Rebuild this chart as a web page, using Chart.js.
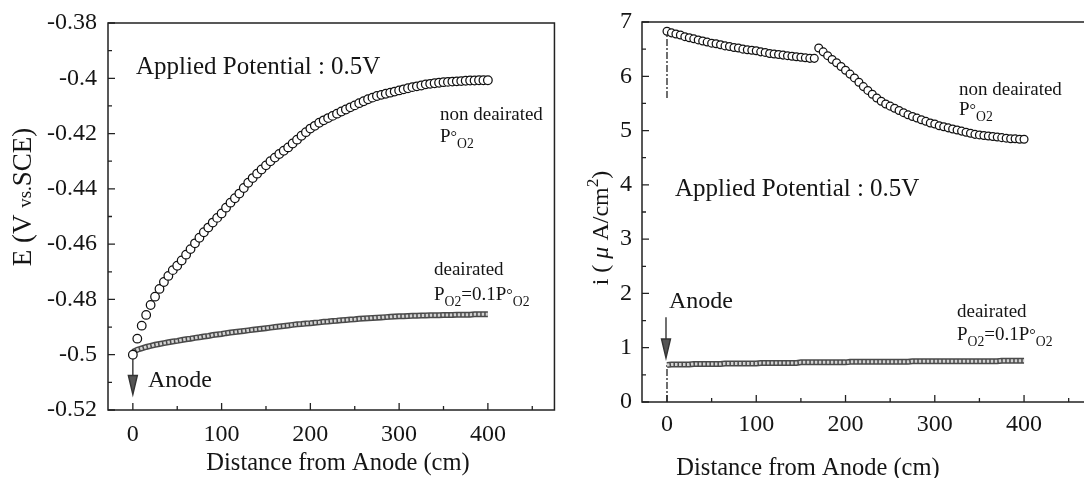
<!DOCTYPE html>
<html><head><meta charset="utf-8">
<script src="https://cdn.jsdelivr.net/npm/chart.js@4.4.1/dist/chart.umd.min.js"></script>
<style>
html,body{margin:0;padding:0;background:#fff;overflow:hidden;width:1084px;height:478px;}
#c1{position:absolute;left:0;top:0;}
#c2{position:absolute;left:560px;top:0;}
</style></head><body>
<canvas id="c1" width="560" height="478"></canvas>
<canvas id="c2" width="540" height="478"></canvas>
<script>
// ---------- data ----------
const distance = [0,5,10,15,20,25,30,35,40,45,50,55,60,65,70,75,80,85,90,95,
  100,105,110,115,120,125,130,135,140,145,150,155,160,165,170,175,180,185,190,195,
  200,205,210,215,220,225,230,235,240,245,250,255,260,265,270,275,280,285,290,295,
  300,305,310,315,320,325,330,335,340,345,350,355,360,365,370,375,380,385,390,395,400];

const E_nonDeairated = [-0.5000,-0.4942,-0.4895,-0.4856,-0.4820,-0.4790,-0.4762,-0.4737,-0.4715,-0.4694,
  -0.4678,-0.4659,-0.4638,-0.4618,-0.4597,-0.4577,-0.4557,-0.4540,-0.4522,-0.4505,
  -0.4489,-0.4468,-0.4450,-0.4434,-0.4417,-0.4397,-0.4378,-0.4361,-0.4345,-0.4330,
  -0.4315,-0.4300,-0.4287,-0.4274,-0.4262,-0.4250,-0.4236,-0.4222,-0.4208,-0.4195,
  -0.4182,-0.4172,-0.4161,-0.4152,-0.4144,-0.4136,-0.4128,-0.4120,-0.4113,-0.4105,
  -0.4098,-0.4090,-0.4083,-0.4076,-0.4070,-0.4064,-0.4060,-0.4056,-0.4052,-0.4048,
  -0.4044,-0.4040,-0.4036,-0.4032,-0.4029,-0.4026,-0.4022,-0.4020,-0.4018,-0.4016,
  -0.4014,-0.4013,-0.4012,-0.4011,-0.4010,-0.4009,-0.4008,-0.4008,-0.4007,-0.4007,-0.4007];

const E_deairated = [-0.4990,-0.4982,-0.4977,-0.4972,-0.4968,-0.4964,-0.4961,-0.4958,-0.4955,-0.4952,
  -0.4950,-0.4947,-0.4944,-0.4942,-0.4939,-0.4937,-0.4934,-0.4932,-0.4929,-0.4927,
  -0.4925,-0.4922,-0.4920,-0.4918,-0.4916,-0.4914,-0.4912,-0.4910,-0.4908,-0.4906,
  -0.4904,-0.4902,-0.4900,-0.4898,-0.4896,-0.4894,-0.4892,-0.4890,-0.4889,-0.4887,
  -0.4886,-0.4884,-0.4883,-0.4881,-0.4880,-0.4878,-0.4877,-0.4875,-0.4874,-0.4873,
  -0.4872,-0.4870,-0.4869,-0.4868,-0.4867,-0.4866,-0.4865,-0.4864,-0.4863,-0.4862,
  -0.4861,-0.4861,-0.4860,-0.4859,-0.4859,-0.4858,-0.4858,-0.4857,-0.4857,-0.4857,
  -0.4856,-0.4856,-0.4856,-0.4855,-0.4855,-0.4855,-0.4855,-0.4854,-0.4854,-0.4854,-0.4854];

const i_nonDeairated = [6.83,6.80,6.78,6.76,6.73,6.71,6.69,6.67,6.65,6.63,
  6.61,6.60,6.58,6.56,6.55,6.53,6.52,6.50,6.49,6.48,
  6.47,6.45,6.44,6.42,6.41,6.40,6.39,6.38,6.37,6.36,
  6.35,6.34,6.33,6.33,6.52,6.45,6.38,6.31,6.25,6.18,
  6.11,6.04,5.97,5.89,5.81,5.74,5.67,5.60,5.54,5.49,
  5.45,5.41,5.37,5.33,5.29,5.26,5.23,5.20,5.17,5.14,
  5.12,5.09,5.07,5.05,5.03,5.01,4.99,4.97,4.95,4.93,
  4.92,4.91,4.90,4.89,4.88,4.87,4.86,4.85,4.85,4.84,4.84];

const i_deairated = [0.68,0.69,0.69,0.69,0.69,0.69,0.70,0.70,0.70,0.70,
  0.70,0.70,0.70,0.71,0.71,0.71,0.71,0.71,0.71,0.71,
  0.71,0.72,0.72,0.72,0.72,0.72,0.72,0.72,0.72,0.72,
  0.73,0.73,0.73,0.73,0.73,0.73,0.73,0.73,0.73,0.73,
  0.73,0.74,0.74,0.74,0.74,0.74,0.74,0.74,0.74,0.74,
  0.74,0.74,0.74,0.74,0.74,0.75,0.75,0.75,0.75,0.75,
  0.75,0.75,0.75,0.75,0.75,0.75,0.75,0.75,0.75,0.75,
  0.75,0.75,0.75,0.75,0.75,0.76,0.76,0.76,0.76,0.76,0.76];

// start-of-measurement vertical marks (current chart) and Anode arrows
const startMarkX = [0, 0];
const startMarkUpper = [5.60, 6.83];
const startMarkLower = [0.00, 0.68];
const anodeArrowE = [-0.5000, -0.5144];
const anodeArrowI = [1.56, 0.81];

// ticks
const xTicks = [0, 100, 200, 300, 400];
const xTickLabels = ['0', '100', '200', '300', '400'];
const xMinor = [50, 150, 250, 350, 450];
const eTicks = [-0.52, -0.50, -0.48, -0.46, -0.44, -0.42, -0.40, -0.38];
const eTickLabels = ['-0.52', '-0.5', '-0.48', '-0.46', '-0.44', '-0.42', '-0.4', '-0.38'];
const eMinor = [-0.51, -0.49, -0.47, -0.45, -0.43, -0.41, -0.39];
const iTicks = [0, 1, 2, 3, 4, 5, 6, 7];
const iTickLabels = ['0', '1', '2', '3', '4', '5', '6', '7'];
const iMinor = [0.5, 1.5, 2.5, 3.5, 4.5, 5.5, 6.5];

// ---------- helpers ----------
const SERIF = '"Liberation Serif", "Times New Roman", serif';
const INK = '#151515';
const pts = (xs, ys) => xs.map((x, k) => ({x: x, y: ys[k]}));

function drawRuns(ctx, x, y, runs, base, measureOnly) {
  let cx = x;
  runs.forEach(r => {
    const s = (r.sub || r.sup) ? base * 0.72 : base * (r.scale || 1);
    ctx.font = (r.italic ? 'italic ' : '') + s + 'px ' + SERIF;
    const dy = r.sub ? base * 0.30 : (r.sup ? -base * 0.40 : 0);
    if (!measureOnly) ctx.fillText(r.t, cx, y + dy);
    cx += ctx.measureText(r.t).width;
  });
  return cx - x;
}
function drawRotated(ctx, bx, cy, runs, base) {
  ctx.save();
  ctx.translate(bx, cy);
  ctx.rotate(-Math.PI / 2);
  const w = drawRuns(ctx, 0, 0, runs, base, true);
  drawRuns(ctx, -w / 2, 0, runs, base, false);
  ctx.restore();
}
function arrow(ctx, px, y0, y1) {
  ctx.save();
  ctx.strokeStyle = '#333'; ctx.fillStyle = '#555'; ctx.lineWidth = 1.4;
  const head = 19;
  ctx.beginPath(); ctx.moveTo(px, y0); ctx.lineTo(px, y1 - head); ctx.stroke();
  ctx.beginPath(); ctx.moveTo(px - 4.5, y1 - head); ctx.lineTo(px + 4.5, y1 - head); ctx.lineTo(px, y1); ctx.closePath();
  ctx.fill(); ctx.stroke();
  ctx.restore();
}

const framePlugin = {
  id: 'frameTicks',
  afterDatasetsDraw(chart, args, o) {
    const ctx = chart.ctx, a = chart.chartArea, xs = chart.scales.x, ys = chart.scales.y;
    ctx.save();
    ctx.strokeStyle = '#222'; ctx.lineWidth = 1.5;
    ctx.strokeRect(a.left, a.top, a.right - a.left, a.bottom - a.top);
    ctx.lineWidth = 1.3;
    ctx.beginPath();
    xTicks.forEach(v => { const p = xs.getPixelForValue(v); ctx.moveTo(p, a.bottom); ctx.lineTo(p, a.bottom - 7); });
    xMinor.forEach(v => { const p = xs.getPixelForValue(v); ctx.moveTo(p, a.bottom); ctx.lineTo(p, a.bottom - 4); });
    o.major.forEach(v => { const p = ys.getPixelForValue(v); ctx.moveTo(a.left, p); ctx.lineTo(a.left + 7, p); });
    o.minor.forEach(v => { const p = ys.getPixelForValue(v); ctx.moveTo(a.left, p); ctx.lineTo(a.left + 4, p); });
    ctx.stroke();
    ctx.restore();
  },
  afterDraw(chart, args, o) {
    const ctx = chart.ctx;
    ctx.save();
    ctx.fillStyle = INK; ctx.textBaseline = 'alphabetic'; ctx.textAlign = 'left';
    o.draw(ctx, chart);
    ctx.restore();
  }
};

function makeOptions(c) {
  return {
    responsive: false, animation: false, devicePixelRatio: 1,
    layout: {padding: {left: 0, top: c.top, right: c.right, bottom: 0}},
    plugins: {legend: {display: false}, tooltip: {enabled: false}, frameTicks: c.frame},
    scales: {
      x: {
        type: 'linear', min: -28, max: 475,
        grid: {display: false, drawTicks: false}, border: {display: false},
        afterBuildTicks: s => { s.ticks = xTicks.map(v => ({value: v})); },
        afterFit: s => { s.height = c.xh; },
        ticks: {padding: c.xpad, color: INK, autoSkip: false, maxRotation: 0,
          font: {family: SERIF, size: 24, lineHeight: 1},
          callback: (v, i) => xTickLabels[i]}
      },
      y: {
        type: 'linear', min: c.ymin, max: c.ymax,
        grid: {display: false, drawTicks: false}, border: {display: false},
        afterBuildTicks: s => { s.ticks = c.yTicks.map(v => ({value: v})); },
        afterFit: s => { s.width = c.yw; },
        ticks: {padding: c.ypad, color: INK, autoSkip: false,
          font: {family: SERIF, size: 24, lineHeight: 1},
          callback: (v, i) => c.yLabels[i]}
      }
    }
  };
}

const circleStyle = {showLine: false, pointRadius: 4.3, pointBorderWidth: 1.25,
  pointBorderColor: '#111', pointBackgroundColor: '#fff', pointHoverRadius: 4};
const bandOuter = {showLine: true, borderColor: '#4a4a4a', borderWidth: 6, pointRadius: 0, tension: 0};
const bandInner = {showLine: true, borderColor: '#d2d2d2', borderWidth: 3, borderDash: [2.5, 1.5], pointRadius: 0, tension: 0};

// ---------- left chart: potential ----------
new Chart(document.getElementById('c1'), {
  type: 'scatter',
  data: {datasets: [
    Object.assign({label: 'non deairated', data: pts(distance, E_nonDeairated)}, circleStyle),
    Object.assign({label: 'deairated (inner)', data: pts(distance, E_deairated)}, bandInner),
    Object.assign({label: 'deairated', data: pts(distance, E_deairated)}, bandOuter)
  ]},
  options: makeOptions({
    top: 22, right: 4, xh: 68, yw: 108, xpad: 13, ypad: 11,
    ymin: -0.52, ymax: -0.38, yTicks: eTicks, yLabels: eTickLabels,
    frame: {
      major: eTicks, minor: eMinor,
      draw(ctx, chart) {
        const xs = chart.scales.x, ys = chart.scales.y;
        arrow(ctx, xs.getPixelForValue(0), ys.getPixelForValue(anodeArrowE[0]) + 4, ys.getPixelForValue(anodeArrowE[1]));
        ctx.font = '25px ' + SERIF;
        ctx.fillText('Applied Potential : 0.5V', 136, 74);
        ctx.font = '24px ' + SERIF;
        ctx.fillText('Anode', 148, 387);
        ctx.font = '19px ' + SERIF;
        ctx.fillText('non deairated', 440, 120);
        drawRuns(ctx, 440, 142, [{t: 'P'}, {t: '°', scale: 0.85}, {t: 'O2', sub: true}], 19);
        ctx.font = '19px ' + SERIF;
        ctx.fillText('deairated', 434, 275);
        drawRuns(ctx, 434, 300, [{t: 'P'}, {t: 'O2', sub: true}, {t: '=0.1P'}, {t: '°', scale: 0.85}, {t: 'O2', sub: true}], 19);
        ctx.font = '24.5px ' + SERIF;
        ctx.textAlign = 'center';
        ctx.fillText('Distance from Anode (cm)', 338, 470);
        ctx.textAlign = 'left';
        drawRotated(ctx, 31, 197, [{t: 'E (V '}, {t: 'vs.', scale: 0.7}, {t: 'SCE)'}], 27);
      }
    }
  }),
  plugins: [framePlugin]
});

// ---------- right chart: current density ----------
new Chart(document.getElementById('c2'), {
  type: 'scatter',
  data: {datasets: [
    Object.assign({label: 'non deairated', data: pts(distance, i_nonDeairated)}, circleStyle, {pointRadius: 3.9}),
    Object.assign({label: 'deairated (inner)', data: pts(distance, i_deairated)}, bandInner),
    Object.assign({label: 'deairated', data: pts(distance, i_deairated)}, bandOuter),
    {label: 'start upper', data: pts(startMarkX, startMarkUpper), showLine: true, borderColor: '#222',
      borderWidth: 1.3, borderDash: [7, 2, 2, 2], pointRadius: 0},
    {label: 'start lower', data: pts(startMarkX, startMarkLower), showLine: true, borderColor: '#222',
      borderWidth: 1.3, borderDash: [7, 2, 2, 2], pointRadius: 0}
  ]},
  options: makeOptions({
    top: 13, right: 9, xh: 76, yw: 82, xpad: 11, ypad: 10,
    ymin: 0, ymax: 7, yTicks: iTicks, yLabels: iTickLabels,
    frame: {
      major: iTicks, minor: iMinor,
      draw(ctx, chart) {
        const xs = chart.scales.x, ys = chart.scales.y;
        arrow(ctx, xs.getPixelForValue(0) - 1, ys.getPixelForValue(anodeArrowI[0]), ys.getPixelForValue(anodeArrowI[1]));
        ctx.font = '25px ' + SERIF;
        ctx.fillText('Applied Potential : 0.5V', 115, 196);
        ctx.font = '24px ' + SERIF;
        ctx.fillText('Anode', 109, 308);
        ctx.font = '19px ' + SERIF;
        ctx.fillText('non deairated', 399, 95);
        drawRuns(ctx, 399, 115, [{t: 'P'}, {t: '°', scale: 0.85}, {t: 'O2', sub: true}], 19);
        ctx.font = '19px ' + SERIF;
        ctx.fillText('deairated', 397, 317);
        drawRuns(ctx, 397, 340, [{t: 'P'}, {t: 'O2', sub: true}, {t: '=0.1P'}, {t: '°', scale: 0.85}, {t: 'O2', sub: true}], 19);
        ctx.font = '24.5px ' + SERIF;
        ctx.textAlign = 'center';
        ctx.fillText('Distance from Anode (cm)', 248, 475);
        ctx.textAlign = 'left';
        drawRotated(ctx, 48, 228, [{t: 'i ( '}, {t: 'μ', italic: true}, {t: ' A/cm'}, {t: '2', sup: true}, {t: ')'}], 24);
      }
    }
  }),
  plugins: [framePlugin]
});
</script>
</body></html>
